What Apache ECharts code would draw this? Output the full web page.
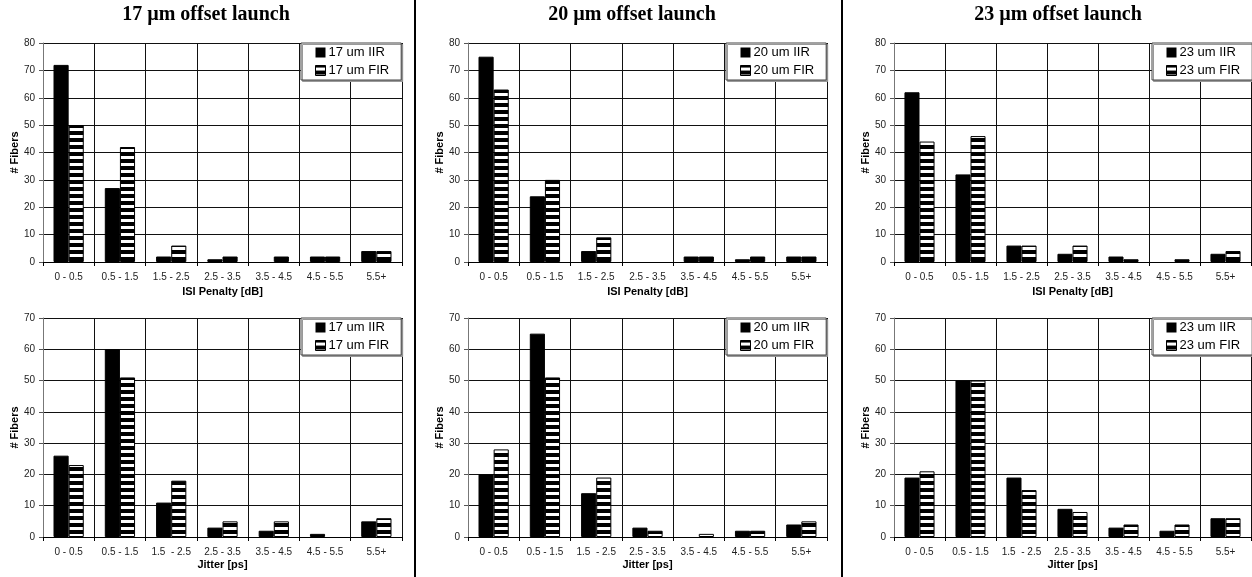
<!DOCTYPE html>
<html><head><meta charset="utf-8">
<script src="https://cdn.jsdelivr.net/npm/echarts@6/dist/echarts.min.js"></script>
<style>html,body{margin:0;padding:0;background:#fff}#c{width:1252px;height:577px}</style>
</head><body><div id="c"></div><script>
// ---- data ----
const isiCategories = ["0 - 0.5","0.5 - 1.5","1.5 - 2.5","2.5 - 3.5","3.5 - 4.5","4.5 - 5.5","5.5+"];
const jitterCategories = ["0 - 0.5","0.5 - 1.5","1.5  - 2.5","2.5 - 3.5","3.5 - 4.5","4.5 - 5.5","5.5+"];
const panelTitles = ["17 µm offset launch","20 µm offset launch","23 µm offset launch"];
const iirNames = ["17 um IIR","20 um IIR","23 um IIR"];
const firNames = ["17 um FIR","20 um FIR","23 um FIR"];
const isiMax = 80, jitterMax = 70, tickStep = 10;

const isi17IIR = [72,27,2,1,0,2,4];
const isi17FIR = [50,42,6,2,2,2,4];
const isi20IIR = [75,24,4,0,2,1,2];
const isi20FIR = [63,30,9,0,2,2,2];
const isi23IIR = [62,32,6,3,2,0,3];
const isi23FIR = [44,46,6,6,1,1,4];

const jit17IIR = [26,60,11,3,2,1,5];
const jit17FIR = [23,51,18,5,5,0,6];
const jit20IIR = [20,65,14,3,0,2,4];
const jit20FIR = [28,51,19,2,1,2,5];
const jit23IIR = [19,50,19,9,3,2,6];
const jit23FIR = [21,50,15,8,4,4,6];

const isiIIR = [isi17IIR, isi20IIR, isi23IIR];
const isiFIR = [isi17FIR, isi20FIR, isi23FIR];
const jitIIR = [jit17IIR, jit20IIR, jit23IIR];
const jitFIR = [jit17FIR, jit20FIR, jit23FIR];

// ---- layout / style ----
const SANS = "'Liberation Sans', Arial, sans-serif";
const SERIF = "'Liberation Serif', 'Times New Roman', serif";
const pc = document.createElement('canvas'); pc.width = 8; pc.height = 7;
const g = pc.getContext('2d'); g.fillStyle = '#000'; g.fillRect(0,0,8,7); g.fillStyle = '#fff'; g.fillRect(0,2,8,3);
const stripe = { image: pc, repeat: 'repeat' };

// zero counts: no visible bar (hide the outline)
const withEmptyZeros = (arr) => arr.map(v => v === 0 ? { value: 0, itemStyle: { borderWidth: 0 } } : v);

const cols = [
  { left: 43, width: 359, titleX: 201, legendLeft: 301 },
  { left: 468, width: 359, titleX: 627, legendLeft: 726 },
  { left: 894, width: 357, titleX: 1053, legendLeft: 1152 }
];
const rows = [
  { top: 43, height: 219, max: isiMax, cats: isiCategories, name: 'ISI Penalty [dB]', nameGap: 24, iir: isiIIR, fir: isiFIR },
  { top: 318, height: 219, max: jitterMax, cats: jitterCategories, name: 'Jitter [ps]', nameGap: 22, iir: jitIIR, fir: jitFIR }
];

const grid = [], xAxis = [], yAxis = [], series = [], legend = [], title = [];
panelTitles.forEach((t, c) => {
  title.push({ text: t, left: cols[c].titleX, top: 0, textAlign: 'center',
    textStyle: { fontFamily: SERIF, fontWeight: 'bold', fontSize: 20, color: '#000' } });
});
let idx = 0;
rows.forEach((r) => {
  cols.forEach((c, ci) => {
    grid.push({ left: c.left, top: r.top, width: c.width, height: r.height, containLabel: false });
    xAxis.push({ type: 'category', gridIndex: idx, data: r.cats, boundaryGap: true,
      name: r.name, nameLocation: 'middle', nameGap: r.nameGap,
      nameTextStyle: { fontFamily: SANS, fontWeight: 'bold', fontSize: 11, color: '#000' },
      axisLine: { show: true, lineStyle: { color: '#000', width: 1 } },
      axisTick: { show: true, length: 4, lineStyle: { color: '#000' } },
      axisLabel: { interval: 0, margin: 10, fontFamily: SANS, fontSize: 10, color: '#222' },
      splitLine: { show: true, interval: 0, lineStyle: { color: '#111', width: 1 } } });
    yAxis.push({ type: 'value', gridIndex: idx, min: 0, max: r.max, interval: tickStep,
      name: '# Fibers', nameLocation: 'middle', nameGap: 22, nameRotate: 90,
      nameTextStyle: { fontFamily: SANS, fontWeight: 'bold', fontSize: 11, color: '#000' },
      axisLine: { show: true, lineStyle: { color: '#777', width: 1 } },
      axisTick: { show: true, length: 4, lineStyle: { color: '#555' } },
      axisLabel: { margin: 8, fontFamily: SANS, fontSize: 10, color: '#222' },
      splitLine: { show: true, lineStyle: { color: '#111', width: 1 } } });
    series.push({ type: 'bar', name: iirNames[ci], xAxisIndex: idx, yAxisIndex: idx,
      data: withEmptyZeros(r.iir[ci]), barGap: '0%', barCategoryGap: '41%',
      itemStyle: { color: '#000', borderColor: '#000', borderWidth: 1 }, silent: true });
    series.push({ type: 'bar', name: firNames[ci], xAxisIndex: idx, yAxisIndex: idx,
      data: withEmptyZeros(r.fir[ci]), barGap: '0%', barCategoryGap: '41%',
      itemStyle: { color: stripe, borderColor: '#000', borderWidth: 1 }, silent: true });
    legend.push({ data: [
        { name: iirNames[ci], icon: 'rect', itemStyle: { color: '#000', borderColor: '#000', borderWidth: 0 } },
        { name: firNames[ci], icon: 'rect', itemStyle: { color: stripe, borderColor: '#000', borderWidth: 1 } }],
      left: c.legendLeft, top: r.top, orient: 'vertical', selectedMode: false,
      backgroundColor: '#fff', borderColor: '#444', borderWidth: 1, borderRadius: 0,
      shadowColor: '#999', shadowOffsetX: 1.5, shadowOffsetY: 1.5, shadowBlur: 0,
      padding: [3, 12, 3, 14], itemGap: 5, itemWidth: 10, itemHeight: 10,
      textStyle: { fontFamily: SANS, fontSize: 13, color: '#000', padding: [0,0,0,-2] } });
    idx++;
  });
});

const chart = echarts.init(document.getElementById('c'), null, { renderer: 'canvas' });
chart.setOption({
  animation: false, backgroundColor: '#fff',
  title, grid, xAxis, yAxis, series, legend,
  graphic: [
    { type: 'line', shape: { x1: 415, y1: 0, x2: 415, y2: 577 }, style: { stroke: '#000', lineWidth: 2 } },
    { type: 'line', shape: { x1: 842, y1: 0, x2: 842, y2: 577 }, style: { stroke: '#000', lineWidth: 2 } }
  ]
});
</script></body></html>
